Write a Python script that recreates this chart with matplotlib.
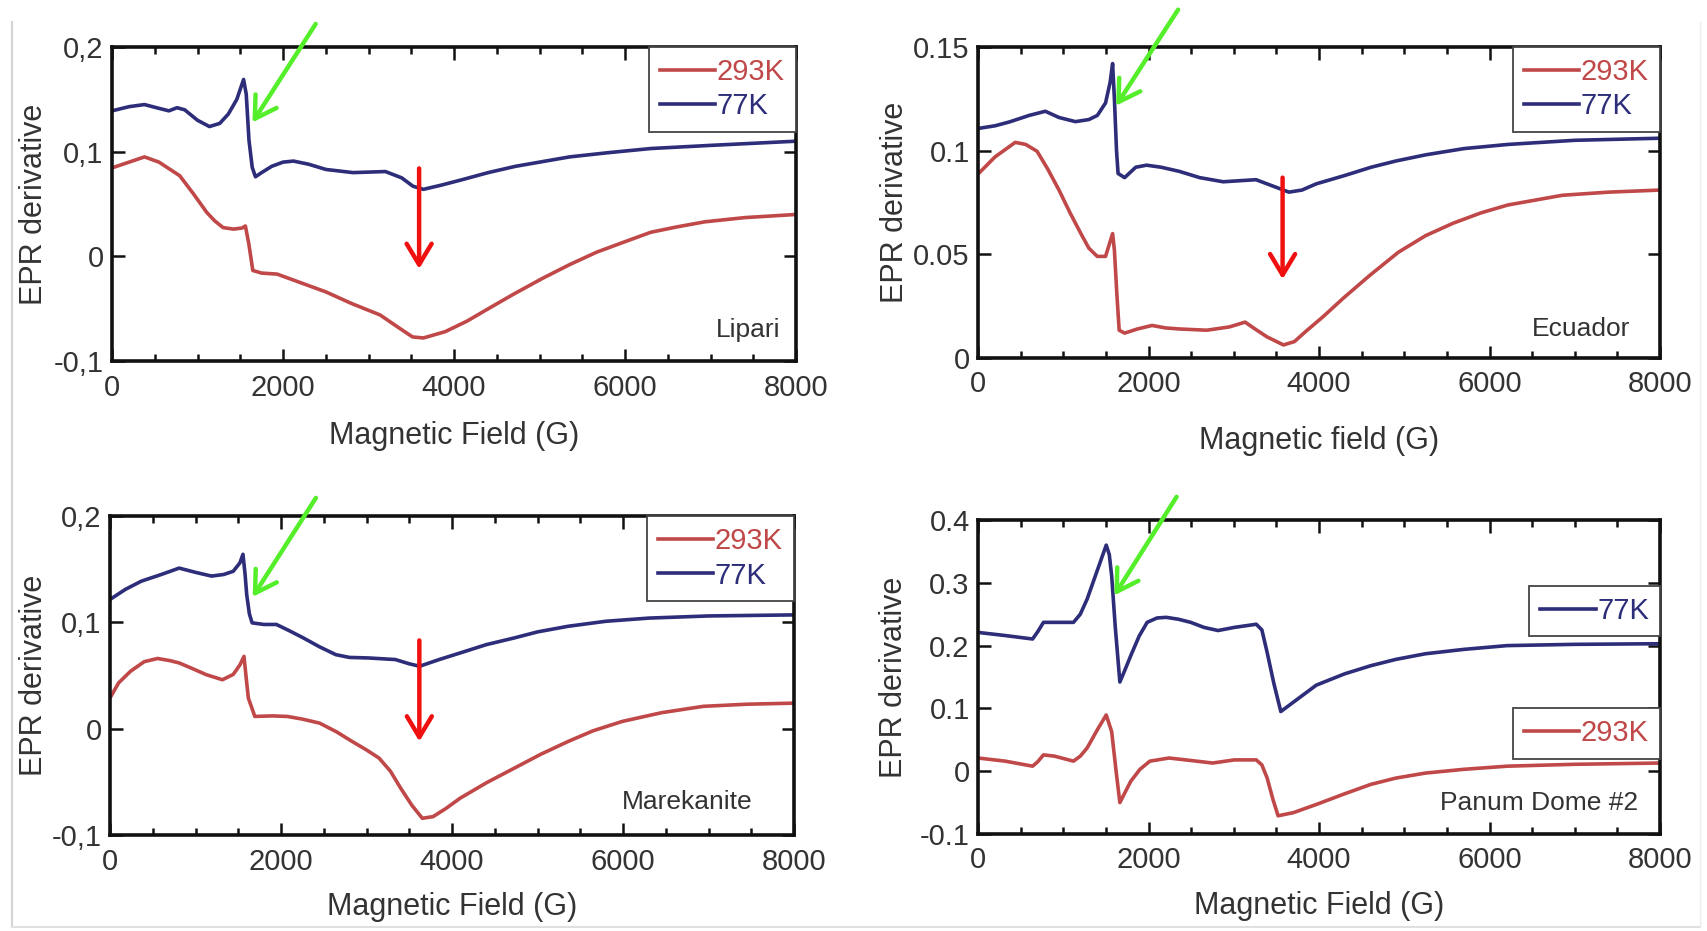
import numpy as np
import matplotlib
matplotlib.use('Agg')
import matplotlib.pyplot as plt
from matplotlib.ticker import MultipleLocator, FuncFormatter

plt.rcParams['font.family'] = ['Liberation Sans', 'DejaVu Sans']

# ---- data (field in G, EPR derivative) ----
# Lipari
lip_b_x = [0, 200, 380, 520, 665, 760, 850, 1000, 1140, 1260, 1361, 1460, 1539, 1570, 1602,
           1640, 1678, 1750, 1868, 2000, 2122, 2300, 2502, 2818, 3198, 3388, 3520, 3642,
           3850, 4085, 4400, 4719, 5000, 5352, 5800, 6302, 7000, 8000]
lip_b_y = [0.139, 0.143, 0.145, 0.142, 0.139, 0.142, 0.140, 0.130, 0.124, 0.127, 0.136,
           0.150, 0.169, 0.155, 0.111, 0.085, 0.076, 0.080, 0.086, 0.090, 0.091, 0.088,
           0.083, 0.080, 0.081, 0.075, 0.067, 0.064, 0.068, 0.073, 0.080, 0.086, 0.090,
           0.095, 0.099, 0.103, 0.106, 0.110]
lip_r_x = [0, 200, 380, 550, 792, 950, 1108, 1200, 1298, 1420, 1520, 1560, 1600, 1647,
           1750, 1932, 2200, 2502, 2800, 3135, 3350, 3515, 3642, 3896, 4150, 4402, 4700,
           5036, 5350, 5669, 6000, 6302, 6600, 6935, 7400, 8000]
lip_r_y = [0.0845, 0.090, 0.095, 0.090, 0.077, 0.060, 0.042, 0.034, 0.0275, 0.026, 0.027,
           0.029, 0.012, -0.0135, -0.016, -0.017, -0.025, -0.034, -0.045, -0.056, -0.068,
           -0.077, -0.078, -0.072, -0.062, -0.050, -0.036, -0.021, -0.008, 0.004, 0.014,
           0.023, 0.028, 0.033, 0.037, 0.040]

# Ecuador
ecu_b_x = [0, 200, 372, 600, 790, 950, 1143, 1300, 1400, 1496, 1550, 1579, 1600, 1625, 1643,
           1720, 1850, 1977, 2150, 2363, 2600, 2876, 3261, 3454, 3647, 3800, 3968, 4300,
           4610, 4900, 5252, 5700, 6215, 7000, 8000]
ecu_b_y = [0.1107, 0.112, 0.1139, 0.117, 0.119, 0.116, 0.114, 0.115, 0.117, 0.123, 0.133,
           0.142, 0.125, 0.100, 0.089, 0.087, 0.092, 0.093, 0.092, 0.090, 0.087, 0.085,
           0.086, 0.083, 0.080, 0.081, 0.084, 0.088, 0.092, 0.095, 0.098, 0.101, 0.103,
           0.105, 0.106]
ecu_r_x = [0, 200, 437, 560, 693, 820, 950, 1080, 1207, 1300, 1399, 1496, 1579, 1600, 1630,
           1656, 1720, 1870, 2042, 2200, 2363, 2684, 2950, 3133, 3250, 3390, 3583, 3711,
           3850, 4050, 4289, 4600, 4931, 5250, 5573, 5900, 6215, 6857, 7400, 8000]
ecu_r_y = [0.0887, 0.097, 0.104, 0.103, 0.0997, 0.091, 0.081, 0.070, 0.060, 0.053, 0.049,
           0.049, 0.060, 0.052, 0.030, 0.0134, 0.012, 0.014, 0.0157, 0.0145, 0.014, 0.0134,
           0.015, 0.0173, 0.014, 0.0102, 0.0063, 0.0079, 0.013, 0.020, 0.029, 0.040, 0.051,
           0.059, 0.065, 0.070, 0.0738, 0.0785, 0.080, 0.081]

# Marekanite
mar_b_x = [0, 180, 366, 600, 809, 1000, 1188, 1330, 1441, 1520, 1555, 1580, 1599, 1630,
           1662, 1800, 1946, 2100, 2262, 2450, 2641, 2800, 3021, 3337, 3500, 3621, 3850,
           4095, 4400, 4727, 5000, 5359, 5800, 6306, 7000, 8000]
mar_b_y = [0.1215, 0.131, 0.1387, 0.145, 0.151, 0.147, 0.1435, 0.145, 0.148, 0.156, 0.164,
           0.145, 0.126, 0.108, 0.0995, 0.098, 0.098, 0.092, 0.0853, 0.077, 0.0696, 0.067,
           0.0665, 0.065, 0.061, 0.0587, 0.065, 0.0712, 0.079, 0.0853, 0.091, 0.0963,
           0.101, 0.104, 0.106, 0.107]
mar_r_x = [0, 100, 240, 400, 556, 700, 809, 950, 1125, 1315, 1441, 1520, 1567, 1590, 1618,
           1694, 1900, 2073, 2250, 2452, 2650, 2831, 3000, 3147, 3280, 3400, 3530, 3653,
           3779, 3930, 4095, 4400, 4727, 5040, 5359, 5650, 5991, 6450, 6939, 7450, 8000]
mar_r_y = [0.0288, 0.043, 0.054, 0.063, 0.066, 0.064, 0.0618, 0.057, 0.0508, 0.046, 0.051,
           0.060, 0.068, 0.050, 0.0288, 0.0115, 0.012, 0.0115, 0.009, 0.0052, -0.003,
           -0.012, -0.020, -0.0277, -0.040, -0.056, -0.072, -0.0843, -0.0827, -0.075,
           -0.0654, -0.051, -0.0372, -0.024, -0.012, -0.002, 0.0068, 0.015, 0.021, 0.023,
           0.024]

# Panum Dome #2
pan_b_x = [0, 320, 640, 700, 768, 896, 1120, 1200, 1280, 1400, 1504, 1540, 1568, 1610, 1664,
           1720, 1792, 1890, 1984, 2100, 2208, 2350, 2496, 2650, 2816, 3008, 3264, 3330,
           3392, 3470, 3552, 3750, 3968, 4300, 4608, 4900, 5248, 5700, 6208, 7000, 8000]
pan_b_y = [0.221, 0.216, 0.2105, 0.222, 0.237, 0.237, 0.237, 0.250, 0.274, 0.320, 0.360,
           0.345, 0.311, 0.230, 0.142, 0.160, 0.184, 0.215, 0.237, 0.244, 0.245, 0.242,
           0.237, 0.229, 0.224, 0.229, 0.234, 0.225, 0.189, 0.140, 0.095, 0.115, 0.137,
           0.155, 0.168, 0.178, 0.187, 0.194, 0.200, 0.202, 0.203]
pan_r_x = [0, 320, 640, 700, 768, 896, 1120, 1200, 1280, 1400, 1504, 1568, 1620, 1664, 1720,
           1792, 1900, 2016, 2240, 2500, 2752, 3008, 3264, 3330, 3392, 3460, 3520, 3700,
           3968, 4300, 4608, 4900, 5248, 5700, 6208, 7000, 8000]
pan_r_y = [0.021, 0.016, 0.008, 0.015, 0.026, 0.024, 0.016, 0.024, 0.037, 0.066, 0.0895,
           0.063, 0.000, -0.050, -0.035, -0.016, 0.003, 0.016, 0.021, 0.017, 0.013, 0.018,
           0.018, 0.010, -0.011, -0.045, -0.071, -0.066, -0.053, -0.036, -0.021, -0.011,
           -0.003, 0.003, 0.008, 0.011, 0.013]

BLUE = '#2d2d7a'
RED = '#c04848'
GREEN = '#55ee2a'
ARROW_RED = '#f01010'
TXT = '#333333'

W, H = 1707, 931
fig = plt.figure(figsize=(W / 100, H / 100), dpi=100)

# faint border of the original scan
fig.add_artist(plt.Line2D([12 / W, 12 / W], [1 - 22 / H, 1 - 927 / H], color='#d4d4d4', lw=1.5))
fig.add_artist(plt.Line2D([12 / W, 1700 / W], [1 - 927 / H, 1 - 927 / H], color='#e0e0e0', lw=1.5))
fig.add_artist(plt.Line2D([1700 / W, 1700 / W], [1 - 22 / H, 1 - 927 / H], color='#ececec', lw=1.0))


def px_axes(l, t, r, b):
    return fig.add_axes([l / W, 1 - b / H, (r - l) / W, (b - t) / H])


def fmt(comma):
    def f(v, pos):
        if abs(v) < 1e-9:
            return '0'
        s = f'{v:g}'
        return s.replace('.', ',') if comma else s
    return FuncFormatter(f)


def style(ax, ylim, ystep, comma, xlabel, ylab_x, xlab_y):
    ax.set_xlim(0, 8000)
    ax.set_ylim(*ylim)
    ax.xaxis.set_major_locator(MultipleLocator(2000))
    ax.xaxis.set_minor_locator(MultipleLocator(500))
    ax.yaxis.set_major_locator(MultipleLocator(ystep))
    ax.yaxis.set_major_formatter(fmt(comma))
    ax.tick_params(which='both', direction='in', top=True, right=True, width=1.8,
                   colors='#111111', labelcolor=TXT, labelsize=21)
    ax.tick_params(axis='x', which='major', length=9, pad=9)
    ax.tick_params(axis='y', which='major', length=9, pad=6)
    ax.tick_params(which='minor', length=5)
    for sp in ax.spines.values():
        sp.set_linewidth(2.6)
        sp.set_color('#111111')
    ax.set_xlabel(xlabel, fontsize=22, color=TXT)
    ax.set_ylabel('EPR derivative', fontsize=22, color=TXT)
    ax.yaxis.set_label_coords(ylab_x, 0.5)
    ax.xaxis.set_label_coords(0.5, xlab_y)


def arrow(ax, xy, xytext, color):
    ax.annotate('', xy=xy, xytext=xytext, annotation_clip=False,
                arrowprops=dict(arrowstyle='->,head_length=0.75,head_width=0.45',
                                color=color, lw=3.2, mutation_scale=20,
                                shrinkA=0, shrinkB=0))


def legend(ax, handles, anchor, loc='upper right'):
    lg = ax.legend(handles=handles, loc=loc, bbox_to_anchor=anchor, borderaxespad=0,
                   fontsize=21, handlelength=1.9, handletextpad=0.05, fancybox=False,
                   framealpha=1, edgecolor='#444444', labelcolor='linecolor',
                   borderpad=0.38, labelspacing=0.22)
    lg.get_frame().set_linewidth(1.3)
    return lg


def curves(ax, rx, ry, bx, by):
    r, = ax.plot(rx, ry, color=RED, lw=2.6, label='293K', solid_joinstyle='round')
    b, = ax.plot(bx, by, color=BLUE, lw=2.6, label='77K', solid_joinstyle='round')
    return r, b


# ---- Lipari ----
ax1 = px_axes(112, 47, 796, 361)
r1, b1 = curves(ax1, lip_r_x, lip_r_y, lip_b_x, lip_b_y)
style(ax1, (-0.1, 0.2), 0.1, True, 'Magnetic Field (G)', -0.092, -0.19)
legend(ax1, [r1, b1], (1, 1))
ax1.text(0.977, 0.10, 'Lipari', transform=ax1.transAxes, ha='right', va='center',
         fontsize=19, color=TXT)
arrow(ax1, (1643, 0.128), (2382, 0.222), GREEN)
arrow(ax1, (3592, -0.012), (3592, 0.084), ARROW_RED)

# ---- Ecuador ----
ax2 = px_axes(978, 47, 1660, 358)
r2, b2 = curves(ax2, ecu_r_x, ecu_r_y, ecu_b_x, ecu_b_y)
style(ax2, (0, 0.15), 0.05, False, 'Magnetic field (G)', -0.10, -0.22)
legend(ax2, [r2, b2], (1, 1))
ax2.text(0.957, 0.093, 'Ecuador', transform=ax2.transAxes, ha='right', va='center',
         fontsize=19, color=TXT)
arrow(ax2, (1620, 0.1217), (2347, 0.168), GREEN)
arrow(ax2, (3573, 0.038), (3573, 0.087), ARROW_RED)

# ---- Marekanite ----
ax3 = px_axes(110, 516, 794, 835)
r3, b3 = curves(ax3, mar_r_x, mar_r_y, mar_b_x, mar_b_y)
style(ax3, (-0.1, 0.2), 0.1, True, 'Magnetic Field (G)', -0.089, -0.18)
legend(ax3, [r3, b3], (1, 1))
ax3.text(0.94, 0.103, 'Marekanite', transform=ax3.transAxes, ha='right', va='center',
         fontsize=19, color=TXT)
arrow(ax3, (1669, 0.124), (2408, 0.217), GREEN)
arrow(ax3, (3618, -0.012), (3618, 0.083), ARROW_RED)

# ---- Panum Dome #2 ----
ax4 = px_axes(978, 520, 1660, 834)
r4, b4 = curves(ax4, pan_r_x, pan_r_y, pan_b_x, pan_b_y)
style(ax4, (-0.1, 0.4), 0.1, False, 'Magnetic Field (G)', -0.101, -0.18)
lg_b = legend(ax4, [b4], (1, 0.79))
ax4.add_artist(lg_b)
legend(ax4, [r4], (1, 0.40))
ax4.text(0.968, 0.099, 'Panum Dome #2', transform=ax4.transAxes, ha='right', va='center',
         fontsize=19, color=TXT)
arrow(ax4, (1600, 0.28), (2330, 0.437), GREEN)

fig.savefig('out.png', dpi=100, facecolor='white')
